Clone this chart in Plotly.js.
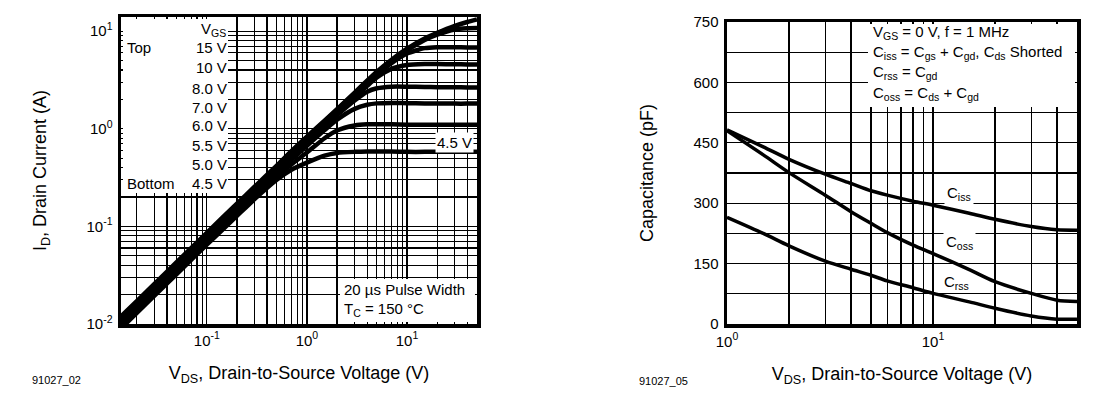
<!DOCTYPE html>
<html>
<head>
<meta charset="utf-8">
<script src="https://cdn.plot.ly/plotly-3.0.1.min.js"></script>
<style>html,body{margin:0;padding:0;background:#fff;}#chart{width:1115px;height:398px;}</style>
</head>
<body>
<div id="chart"></div>
<script>
// ---------- Left chart: output characteristics, Tc = 150 °C ----------
const vdsId = [0.0139, 0.02, 0.03, 0.05, 0.1, 0.2, 0.3, 0.5, 0.7, 1, 1.5, 2, 3, 4, 5, 7, 10, 15, 20, 30, 40, 50];
const id15  = [0.012,0.0172,0.0258,0.043,0.086,0.171,0.255,0.42,0.59,0.83,1.21,1.59,2.35,3.12,3.85,5.1,6.6,8.4,9.6,11.3,12.4,13.2];
const id10  = [0.0115,0.0166,0.0249,0.0415,0.083,0.165,0.247,0.41,0.57,0.81,1.19,1.56,2.3,3.05,3.75,4.95,6.35,8.1,9.2,10.4,10.7,10.75];
const id8   = [0.0111,0.016,0.024,0.04,0.08,0.16,0.238,0.395,0.55,0.785,1.15,1.51,2.22,2.92,3.58,4.7,5.9,6.7,6.85,6.85,6.82,6.8];
const id7   = [0.0107,0.0154,0.0231,0.0385,0.077,0.154,0.23,0.38,0.53,0.76,1.11,1.46,2.1,2.75,3.35,4.1,4.5,4.6,4.6,4.58,4.56,4.55];
const id6   = [0.0103,0.0148,0.0222,0.037,0.074,0.147,0.22,0.365,0.51,0.72,1.06,1.38,1.95,2.4,2.6,2.7,2.7,2.68,2.67,2.66,2.65,2.65];
const id55  = [0.0099,0.0142,0.0213,0.0355,0.071,0.141,0.21,0.345,0.48,0.67,0.97,1.24,1.6,1.76,1.82,1.84,1.83,1.82,1.82,1.81,1.81,1.81];
const id5   = [0.0095,0.0136,0.0204,0.034,0.068,0.135,0.2,0.32,0.43,0.57,0.8,0.96,1.08,1.11,1.11,1.11,1.1,1.1,1.1,1.1,1.1,1.1];
const id45  = [0.009,0.013,0.0195,0.0325,0.065,0.128,0.19,0.3,0.38,0.45,0.53,0.565,0.58,0.585,0.585,0.585,0.58,0.58,0.58,0.58,0.58,0.58];
const vgsLabels = ["15 V", "10 V", "8.0 V", "7.0 V", "6.0 V", "5.5 V", "5.0 V", "4.5 V"];

// ---------- Right chart: capacitance vs VDS ----------
const vdsC = [1, 1.5, 2, 3, 4, 5, 6, 8, 10, 15, 20, 30, 40, 50];
const ciss = [482, 440, 409, 372, 349, 331, 320, 305, 295, 275, 260, 242, 234, 233];
const coss = [480, 420, 376, 320, 279, 250, 227, 196, 175, 135, 105, 76, 59, 56];
const crss = [265, 225, 194, 156, 136, 121, 107, 90, 76, 55, 39, 20, 12, 12];

// tick labels
const idTickVals = [0.01, 0.1, 1, 10];
const idTickText = ["10<sup>-2</sup>", "10<sup>-1</sup>", "10<sup>0</sup>", "10<sup>1</sup>"];
const vTickValsL = [0.1, 1, 10];
const vTickTextL = ["10<sup>-1</sup>", "10<sup>0</sup>", "10<sup>1</sup>"];
const vTickValsR = [1, 10];
const vTickTextR = ["10<sup>0</sup>", "10<sup>1</sup>"];
const capTickVals = [0, 150, 300, 450, 600, 750];
const capTickText = ["0", "150", "300", "450", "600", "750"];

// minor grid positions (2..9 × decade, every 75 pF)
function logMinor(decades, lo, hi) {
  const out = [];
  decades.forEach(d => { for (let m = 2; m <= 9; m++) { const v = +(m * d).toPrecision(3); if (v >= lo && v <= hi) out.push(v); } });
  return out;
}
const minorXL = logMinor([0.01, 0.1, 1, 10], 0.0139, 50);
const minorYL = logMinor([0.01, 0.1, 1, 10], 0.01, 14);
const minorXR = logMinor([1, 10], 1, 50);
const minorYR = [];
for (let v = 75; v < 750; v += 150) minorYR.push(v);

const FONT = "Liberation Sans, Arial, Helvetica, sans-serif";
const idSeries = [id15, id10, id8, id7, id6, id55, id5, id45];
const traces = idSeries.map((s, i) => ({
  x: vdsId, y: s, xaxis: "x", yaxis: "y", type: "scatter", mode: "lines",
  name: "VGS " + vgsLabels[i],
  line: {color: "#000", width: 4.5, shape: "spline", smoothing: 0.6}
}));
[["Ciss", ciss], ["Coss", coss], ["Crss", crss]].forEach(([n, s]) => traces.push({
  x: vdsC, y: s, xaxis: "x2", yaxis: "y2", type: "scatter", mode: "lines", name: n,
  line: {color: "#000", width: 3.5, shape: "spline", smoothing: 0.8}
}));

const W = 1115, H = 398;
const px = v => v / W, py = v => 1 - v / H;

function axis(extra, minorVals) {
  return Object.assign({
    showgrid: true, gridcolor: "#000", gridwidth: 1.2,
    showline: true, linecolor: "#000", linewidth: 3.5, mirror: true,
    ticks: "", zeroline: false, tickmode: "array",
    tickfont: {family: FONT, size: 15, color: "#000"},
    minor: {tickmode: "array", tickvals: minorVals, showgrid: true, gridcolor: "#000", gridwidth: 1.2, ticks: ""},
    fixedrange: true
  }, extra);
}
const titleFont = {family: FONT, size: 18, color: "#000"};

const layout = {
  width: W, height: H,
  margin: {l: 0, r: 0, t: 0, b: 0},
  paper_bgcolor: "#fff", plot_bgcolor: "#fff",
  showlegend: false,
  font: {family: FONT, color: "#000"},
  xaxis: axis({
    type: "log", domain: [px(121), px(477)], anchor: "y",
    range: [Math.log10(0.0139), Math.log10(50)],
    tickvals: vTickValsL, ticktext: vTickTextL, ticklabelstandoff: 0,
    title: {text: "V<sub>DS</sub>, Drain-to-Source Voltage (V)", font: titleFont, standoff: 20}
  }, minorXL),
  yaxis: axis({
    type: "log", domain: [py(324), py(17)], anchor: "x",
    range: [-2, 1.145],
    tickvals: idTickVals, ticktext: idTickText, ticklabelstandoff: 2,
    title: {text: "I<sub>D</sub>, Drain Current (A)", font: titleFont, standoff: 36}
  }, minorYL),
  xaxis2: axis({
    type: "log", domain: [px(727), px(1077)], anchor: "y2",
    range: [0, Math.log10(50)],
    tickvals: vTickValsR, ticktext: vTickTextR, ticklabelstandoff: 1,
    title: {text: "V<sub>DS</sub>, Drain-to-Source Voltage (V)", font: titleFont, standoff: 20}
  }, minorXR),
  yaxis2: axis({
    type: "linear", domain: [py(324), py(22)], anchor: "x2",
    range: [0, 750],
    tickvals: capTickVals, ticktext: capTickText, ticklabelstandoff: 2,
    title: {text: "Capacitance (pF)", font: titleFont, standoff: 36}
  }, minorYR),
  shapes: [
    // label panel (VGS list)
    {type: "rect", xref: "paper", yref: "paper", x0: px(123), x1: px(228), y0: py(193), y1: py(19), fillcolor: "#fff", line: {width: 0}, layer: "above"},
    // pulse width note
    {type: "rect", xref: "paper", yref: "paper", x0: px(340), x1: px(475), y0: py(322), y1: py(279), fillcolor: "#fff", line: {width: 0}, layer: "above"},
    // conditions note (right)
    {type: "rect", xref: "paper", yref: "paper", x0: px(868), x1: px(1075), y0: py(107), y1: py(24), fillcolor: "#fff", line: {width: 0}, layer: "above"}
  ],
  annotations: []
};

const A = layout.annotations;
function txt(text, x, y, opts) {
  A.push(Object.assign({
    text, xref: "paper", yref: "paper", x: px(x), y: py(y), showarrow: false,
    font: {family: FONT, size: 15, color: "#000"}, xanchor: "left", yanchor: "middle"
  }, opts || {}));
}
// VGS list
txt("V<sub>GS</sub>", 228, 30, {xanchor: "right"});
const rowY = [48, 68, 88, 107, 126, 145, 164, 183];
vgsLabels.forEach((l, i) => txt(l, 229, rowY[i], {xanchor: "right"}));
txt("Top", 125, 47);
txt("Bottom", 125, 183);
txt("4.5 V", 474, 142, {xanchor: "right", bgcolor: "#fff", borderpad: 1});
txt("20 µs Pulse Width", 342, 289);
txt("T<sub>C</sub> = 150 °C", 342, 309);
txt("91027_02", 30, 380, {font: {family: FONT, size: 11, color: "#000"}});

// right notes
txt("V<sub>GS</sub> = 0 V, f = 1 MHz", 871, 33);
txt("C<sub>iss</sub> = C<sub>gs</sub> + C<sub>gd</sub>, C<sub>ds</sub> Shorted", 871, 53);
txt("C<sub>rss</sub> = C<sub>gd</sub>", 871, 73);
txt("C<sub>oss</sub> = C<sub>ds</sub> + C<sub>gd</sub>", 871, 93);
txt("C<sub>iss</sub>", 959, 193, {xanchor: "center", bgcolor: "#fff", borderpad: 2});
txt("C<sub>oss</sub>", 959, 242, {xanchor: "center", bgcolor: "#fff", borderpad: 2});
txt("C<sub>rss</sub>", 956, 282, {xanchor: "center"});
txt("91027_05", 637, 381, {font: {family: FONT, size: 11, color: "#000"}});

Plotly.newPlot("chart", traces, layout, {staticPlot: true, displayModeBar: false});
</script>
</body>
</html>
